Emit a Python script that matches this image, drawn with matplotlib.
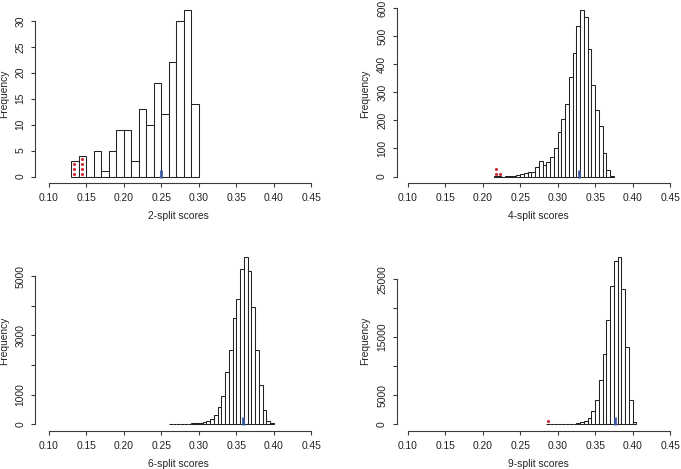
import numpy as np
import matplotlib
matplotlib.use("Agg")
import matplotlib.pyplot as plt
from matplotlib.transforms import offset_copy

plt.rcParams['font.family'] = ['Liberation Sans', 'DejaVu Sans']

# ---------------- data ----------------
# panel 1: 2-split scores, bins of 0.01 starting at 0.13
split2_start = 0.13
split2_binw = 0.01
split2_counts = [3, 4, 0, 5, 1, 5, 9, 9, 3, 13, 10, 18, 12, 22, 30, 32, 14]
split2_red = [0.134, 0.134, 0.134, 0.144, 0.144, 0.144, 0.144]
split2_blue = 0.249
split2_yticks = [0, 5, 10, 15, 20, 25, 30]
split2_ylabels = ["0", "5", "10", "15", "20", "25", "30"]

# panel 2: 4-split scores, bins of 0.005 starting at 0.215
split4_start = 0.215
split4_binw = 0.005
split4_counts = [2, 1, 0, 1, 3, 2, 4, 8, 14, 17, 18, 35, 57, 40, 52, 70, 103,
                 160, 205, 260, 355, 440, 535, 592, 568, 453, 325, 238, 180,
                 85, 24, 1]
split4_red = [0.2174, 0.2174, 0.2227]
split4_blue = 0.328
split4_yticks = [0, 100, 200, 300, 400, 500, 600]
split4_ylabels = ["0", "100", "200", "300", "400", "500", "600"]

# panel 3: 6-split scores, bins of 0.005 starting at 0.26
split6_start = 0.26
split6_binw = 0.005
split6_counts = [3, 4, 5, 7, 9, 12, 18, 25, 45, 68, 113, 175, 316, 590, 950,
                 1755, 2518, 3590, 4233, 5240, 5650, 5200, 3970, 2518, 1310,
                 480, 90, 25]
split6_red = []
split6_blue = 0.3595
split6_yticks = [0, 1000, 2000, 3000, 4000, 5000]
split6_ylabels = ["0", "1000", "", "3000", "", "5000"]

# panel 4: 9-split scores, bins of 0.005 starting at 0.285
split9_start = 0.285
split9_binw = 0.005
split9_counts = [20, 15, 20, 25, 35, 45, 60, 90, 160, 290, 520, 1090, 2300,
                 4200, 7640, 12130, 18000, 23900, 28200, 28800, 23280, 13280,
                 4100, 400]
split9_red = [0.2876]
split9_blue = 0.376
split9_yticks = [0, 5000, 10000, 15000, 20000, 25000]
split9_ylabels = ["0", "5000", "", "15000", "", "25000"]

xticks = [0.10, 0.15, 0.20, 0.25, 0.30, 0.35, 0.40, 0.45]
xticklabels = ["0.10", "0.15", "0.20", "0.25", "0.30", "0.35", "0.40", "0.45"]
xlabels = ["2-split scores", "4-split scores", "6-split scores", "9-split scores"]

# ---------------- layout ----------------
W, H = 681, 469
fig = plt.figure(figsize=(W / 100, H / 100), dpi=100)

AX_COL = '#3a3a3a'
FS = 7.4
RED = '#d0303c'
BLUE = '#3d5ca8'

panels = [
    (split2_start, split2_binw, split2_counts, split2_red, split2_blue, split2_yticks, split2_ylabels),
    (split4_start, split4_binw, split4_counts, split4_red, split4_blue, split4_yticks, split4_ylabels),
    (split6_start, split6_binw, split6_counts, split6_red, split6_blue, split6_yticks, split6_ylabels),
    (split9_start, split9_binw, split9_counts, split9_red, split9_blue, split9_yticks, split9_ylabels),
]

# pixel boxes (left, top, right, bottom) and x-limit left
boxes = [
    ((35.3, 3.8, 321.8, 183.2), 0.082),
    ((396.7, 3.8, 680.7, 183.2), 0.0854),
    ((35.3, 250.6, 321.8, 430.7), 0.082),
    ((396.7, 250.6, 680.7, 430.7), 0.0854),
]

for i, (p, (box, xl)) in enumerate(zip(panels, boxes)):
    start, binw, counts, reds, blue, yt, ylab = p
    l, t, r, b = box
    ax = fig.add_axes([l / W, 1 - b / H, (r - l) / W, (b - t) / H])
    counts = np.array(counts, dtype=float)
    edges = start + binw * np.arange(len(counts) + 1)
    ymax = counts.max()
    ax.bar(edges[:-1], counts, width=binw, align='edge', facecolor='white',
           edgecolor='#222222', linewidth=0.75, zorder=2)
    ax.set_xlim(xl, 0.464)
    ax.set_ylim(-0.04 * ymax, 1.04 * ymax)

    # red stacked dots (offsets in pixels above the baseline)
    seen = {}
    for xv in reds:
        k = seen.get(xv, 0)
        seen[xv] = k + 1
        tr = offset_copy(ax.transData, fig=fig, x=0, y=2.7 + 5.0 * k, units='dots')
        ax.plot([xv], [0], 'o', color=RED, ms=2.3, mec='none', transform=tr, zorder=4)

    # blue marker at baseline
    trb = offset_copy(ax.transData, fig=fig, x=0, y=3.0, units='dots')
    ax.plot([blue], [0], marker='|', color=BLUE, ms=6.0, mew=2.0,
            transform=trb, zorder=5)

    for s in ['top', 'right']:
        ax.spines[s].set_visible(False)
    for s in ['left', 'bottom']:
        ax.spines[s].set_color(AX_COL)
        ax.spines[s].set_linewidth(0.8)
    ax.spines['bottom'].set_bounds(xticks[0], xticks[-1])
    ax.spines['left'].set_bounds(yt[0], yt[-1])

    ax.set_xticks(xticks)
    ax.set_xticklabels(xticklabels)
    ax.set_yticks(yt)
    ax.set_yticklabels(ylab, rotation=90, va='center')
    ax.tick_params(axis='both', direction='out', length=2.9, width=0.8,
                   color=AX_COL, labelsize=FS, labelcolor='#222222')
    ax.tick_params(axis='x', pad=4.4)
    ax.tick_params(axis='y', pad=4.0)
    ax.set_xlabel(xlabels[i], fontsize=FS, color='#222222', labelpad=5.6)
    ax.set_ylabel("Frequency", fontsize=FS, color='#222222', labelpad=5)
    ax.patch.set_visible(False)

fig.savefig("out.png", dpi=100, facecolor='white')
